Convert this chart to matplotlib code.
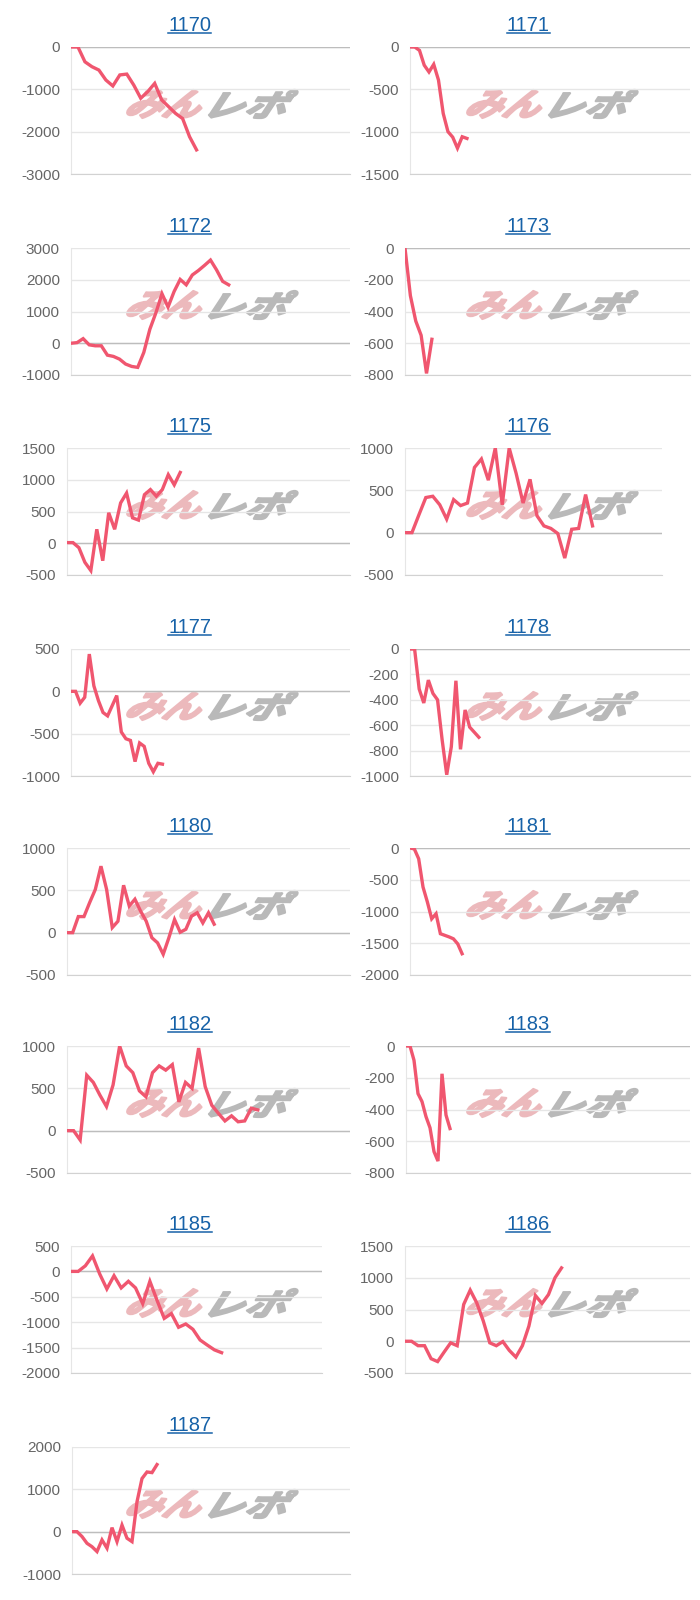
import numpy as np
import matplotlib
matplotlib.use('Agg')
import matplotlib.pyplot as plt
from matplotlib.lines import Line2D
from matplotlib.textpath import TextPath
from matplotlib.patches import PathPatch
from matplotlib.font_manager import FontProperties
from matplotlib.transforms import Affine2D

plt.rcParams['font.family'] = ['Liberation Sans', 'DejaVu Sans']
plt.rcParams['axes.unicode_minus'] = False

# --- data ---
titles = ['1170', '1171', '1172', '1173', '1175', '1176', '1177', '1178',
          '1180', '1181', '1182', '1183', '1185', '1186', '1187']

s1170 = [0, 0, -350, -465, -545, -780, -920, -660, -640, -900, -1210, -1055,
         -860, -1250, -1410, -1570, -1690, -2120, -2430]
s1171 = [0, 0, -40, -215, -295, -205, -390, -785, -1000, -1065, -1195, -1060, -1080]
s1172 = [0, 20, 145, -50, -80, -80, -375, -415, -500, -655, -730, -760, -290, 440,
         960, 1560, 1140, 1630, 2010, 1840, 2150, 2290, 2450, 2620, 2310, 1950, 1840]
s1173 = [0, -300, -460, -550, -790, -575]
s1175 = [10, 10, -70, -300, -430, 220, -275, 480, 220, 635, 790, 400, 365, 765,
         845, 740, 845, 1080, 920, 1115]
s1176 = [0, 0, 210, 415, 430, 330, 160, 390, 320, 350, 770, 870, 620, 1000, 330,
         1000, 700, 350, 630, 200, 80, 50, -10, -300, 40, 50, 450, 80]
s1177 = [0, 0, -140, -70, 440, 65, -110, -250, -290, -170, -50, -480, -560, -580,
         -830, -610, -650, -850, -950, -850, -860]
s1178 = [0, 0, -315, -425, -245, -350, -400, -715, -990, -770, -250, -790, -480,
         -615, -655, -695]
s1180 = [0, 0, 190, 190, 355, 510, 785, 510, 60, 135, 560, 315, 395, 255, 135, -60,
         -120, -255, -60, 155, 5, 40, 195, 235, 115, 235, 100]
s1181 = [0, -15, -170, -615, -850, -1115, -1035, -1350, -1375, -1400, -1430, -1510, -1665]
s1182 = [0, 0, -110, 655, 570, 420, 285, 540, 1000, 765, 685, 470, 400, 685, 765,
         715, 780, 340, 570, 500, 975, 520, 300, 205, 115, 175, 105, 115, 265, 245]
s1183 = [0, 0, -90, -300, -350, -445, -515, -665, -725, -175, -435, -520]
s1185 = [0, 0, 110, 305, -50, -345, -85, -325, -195, -325, -635, -195, -570, -925,
         -830, -1100, -1035, -1140, -1350, -1450, -1545, -1600]
s1186 = [0, 0, -70, -70, -275, -320, -170, -25, -70, 580, 805, 605, 320, -25, -70,
         -5, -145, -250, -70, 240, 720, 595, 735, 1000, 1155]
s1187 = [0, 0, -115, -275, -355, -470, -195, -390, 95, -235, 155, -155, -235, 705,
         1255, 1410, 1395, 1585]

series = [s1170, s1171, s1172, s1173, s1175, s1176, s1177, s1178,
          s1180, s1181, s1182, s1183, s1185, s1186, s1187]

y_min = [-3000, -1500, -1000, -800, -500, -500, -1000, -1000, -500, -2000, -500, -800, -2000, -500, -1000]
y_max = [0, 0, 3000, 0, 1500, 1000, 500, 0, 1000, 0, 1000, 0, 500, 1500, 2000]
y_step = [1000, 500, 1000, 200, 500, 500, 500, 200, 500, 500, 500, 200, 500, 500, 1000]

# number of x slots on each chart's category axis
x_slots = [40, 59, 46, 53, 47.5, 37, 61, 61, 50, 64.5, 43, 71, 35, 43.7, 55.6]

# --- layout (pixels) ---
W, H = 700, 1600
row_tops = [47, 248, 448, 649, 848, 1046, 1246, 1447]
plot_h = 127
lefts = [71, 410, 71, 405, 67, 405, 71, 410, 67, 410, 67, 406, 71, 405, 72]
rights = [350, 690, 350, 690, 350, 662, 350, 690, 350, 690, 350, 690, 322, 690, 350]
title_x = [190, 528]
logo_x = [123, 463]

line_color = '#f0566f'
title_color = '#1762a8'

fig = plt.figure(figsize=(W / 100, H / 100), dpi=100)
px = Affine2D().scale(1 / W, 1 / H) + fig.transFigure

jp_bold = FontProperties(family='Noto Sans CJK JP', weight='bold')


def logo_patch(text, x0, y_top, width, height, color):
    tp = TextPath((0, 0), text, size=1, prop=jp_bold)
    ext = tp.get_extents()
    tr = (Affine2D().translate(-ext.x0, -ext.y0)
          .scale(1 / ext.width, 1 / ext.height)
          .skew_deg(14, 0)
          .scale(width * 0.88, height)
          .translate(x0, H - y_top - height))
    p = PathPatch(tr.transform_path(tp), facecolor=color, edgecolor=color,
                  lw=1.6, joinstyle='round', transform=px, zorder=-1)
    fig.add_artist(p)


renderer = fig.canvas.get_renderer()

for i, name in enumerate(titles):
    col = i % 2
    row = i // 2
    top = row_tops[row]
    ax = fig.add_axes([lefts[i] / W, 1 - (top + plot_h) / H,
                       (rights[i] - lefts[i]) / W, plot_h / H])
    ax.set_facecolor('none')
    vals = series[i]
    ax.plot(np.arange(len(vals)), vals, color=line_color, lw=2.4,
            solid_joinstyle='miter', zorder=3)
    ax.set_xlim(0, x_slots[i])
    ax.set_ylim(y_min[i], y_max[i])
    ax.set_yticks(np.arange(y_min[i], y_max[i] + 1, y_step[i]))
    ax.set_xticks([])
    ax.tick_params(axis='y', length=0, pad=8, labelsize=11, labelcolor='#666666')
    ax.yaxis.grid(True, color='#e6e6e6', lw=1)
    ax.set_axisbelow(True)
    for s in ['top', 'right']:
        ax.spines[s].set_visible(False)
    ax.spines['left'].set_color('#e6e6e6')
    ax.spines['bottom'].set_color('#d2d2d2')
    if y_min[i] <= 0 <= y_max[i]:
        ax.axhline(0, color='#bdbdbd', lw=1, zorder=2)

    # title with underline
    t = fig.text(title_x[col] / W, 1 - (top - 16) / H, name, ha='center',
                 va='baseline', fontsize=14.5, color=title_color)
    bb = t.get_window_extent(renderer)
    uy = H - (top - 14.5)
    fig.add_artist(Line2D([bb.x0, bb.x1], [uy, uy], color=title_color, lw=1.1,
                          transform=None))

    # watermark
    logo_patch('みん', logo_x[col], top + 43, 82, 28, '#ecb9bc')
    logo_patch('レポ', logo_x[col] + 84, top + 43, 84, 28, '#b9b9b9')

fig.savefig('out.png', dpi=100)
